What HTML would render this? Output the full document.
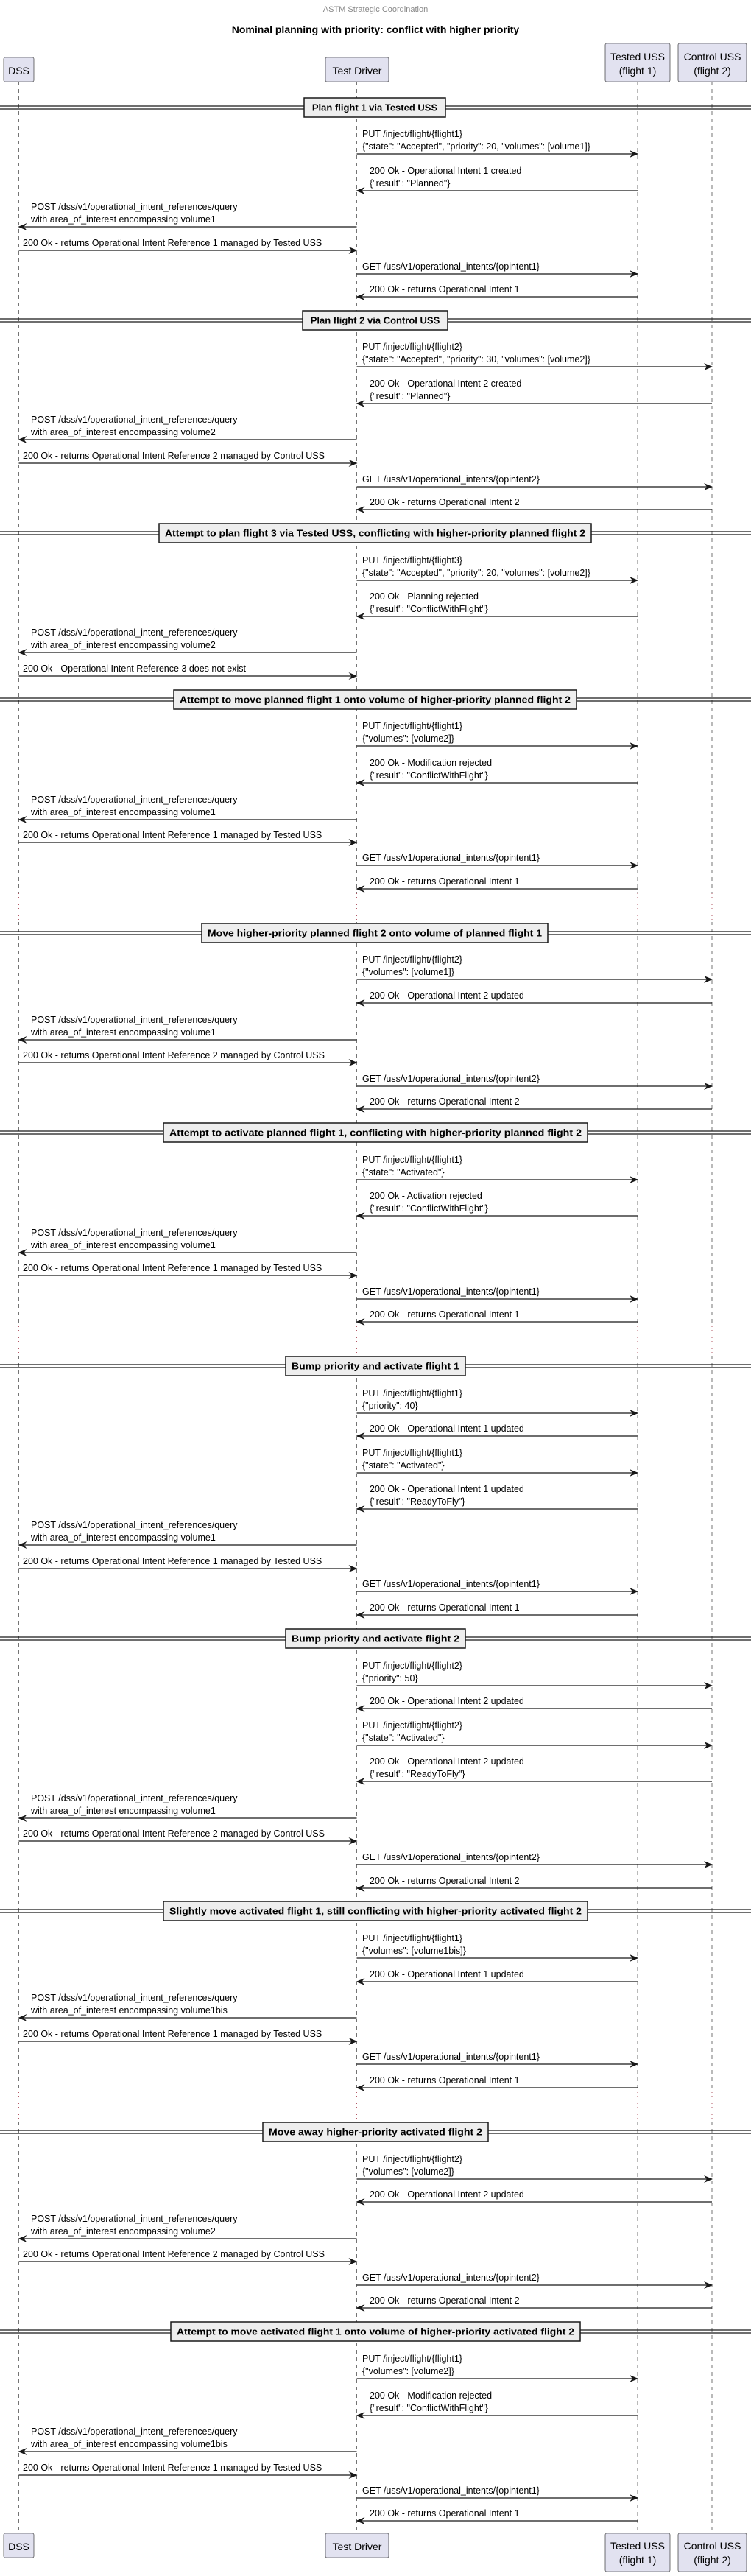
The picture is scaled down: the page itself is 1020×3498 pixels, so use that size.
<!DOCTYPE html>
<html><head><meta charset="utf-8"><style>
html,body{margin:0;padding:0;background:#fff;}
svg{display:block;}
text{font-family:"Liberation Sans",sans-serif;font-size:12.5px;fill:#000;}
.h{font-size:14px;}
.d{font-weight:bold;font-size:13px;}
.ll{stroke:#181818;stroke-width:0.6;stroke-dasharray:5,5;}
.a{stroke:#181818;stroke-width:1.2;marker-end:url(#ah);}
.dl{stroke:#181818;stroke-width:1.2;}
.db{fill:#EEEEEE;stroke:#181818;stroke-width:1.5;}
.pb{fill:#E2E2F0;stroke:#181818;stroke-width:0.6;}
.w{fill:#fff;}
.dot{stroke:#a03040;stroke-width:0.8;stroke-dasharray:1,4;}
</style></head><body>
<svg width="1020" height="3498" viewBox="0 0 1020 3498" xmlns="http://www.w3.org/2000/svg">
<defs><marker id="ah" viewBox="0 0 12 10" refX="11" refY="5" markerWidth="12" markerHeight="10" markerUnits="userSpaceOnUse" orient="auto"><path d="M0,0 L12,5 L0,10 L4,5 Z" fill="#181818"/></marker></defs>

<text x="510" y="16" text-anchor="middle" style="font-size:11px;fill:#888">ASTM Strategic Coordination</text>
<text x="510" y="45" text-anchor="middle" style="font-size:14px;font-weight:bold">Nominal planning with priority: conflict with higher priority</text>

<line class="ll" x1="25.5" y1="111" x2="25.5" y2="3440"/>
<line class="ll" x1="484.5" y1="111" x2="484.5" y2="3440"/>
<line class="ll" x1="866" y1="111" x2="866" y2="3440"/>
<line class="ll" x1="967" y1="111" x2="967" y2="3440"/>
<g>
<rect class="w" x="20" y="1212" width="12" height="40"/><rect class="w" x="479" y="1212" width="12" height="40"/><rect class="w" x="860" y="1212" width="12" height="40"/><rect class="w" x="961" y="1212" width="12" height="40"/>
<line class="dot" x1="25.5" y1="1213" x2="25.5" y2="1250"/><line class="dot" x1="484.5" y1="1213" x2="484.5" y2="1250"/><line class="dot" x1="866" y1="1213" x2="866" y2="1250"/><line class="dot" x1="967" y1="1213" x2="967" y2="1250"/>
<rect class="w" x="20" y="1800" width="12" height="40"/><rect class="w" x="479" y="1800" width="12" height="40"/><rect class="w" x="860" y="1800" width="12" height="40"/><rect class="w" x="961" y="1800" width="12" height="40"/>
<line class="dot" x1="25.5" y1="1801" x2="25.5" y2="1838"/><line class="dot" x1="484.5" y1="1801" x2="484.5" y2="1838"/><line class="dot" x1="866" y1="1801" x2="866" y2="1838"/><line class="dot" x1="967" y1="1801" x2="967" y2="1838"/>
<rect class="w" x="20" y="2840" width="12" height="40"/><rect class="w" x="479" y="2840" width="12" height="40"/><rect class="w" x="860" y="2840" width="12" height="40"/><rect class="w" x="961" y="2840" width="12" height="40"/>
<line class="dot" x1="25.5" y1="2841" x2="25.5" y2="2878"/><line class="dot" x1="484.5" y1="2841" x2="484.5" y2="2878"/><line class="dot" x1="866" y1="2841" x2="866" y2="2878"/><line class="dot" x1="967" y1="2841" x2="967" y2="2878"/>
</g>

<rect class="pb" x="5" y="78" width="41" height="33" rx="2"/><text class="h" x="25.5" y="101" text-anchor="middle">DSS</text>
<rect class="pb" x="442" y="78" width="86" height="33" rx="2"/><text class="h" x="485" y="101" text-anchor="middle">Test Driver</text>
<rect class="pb" x="822" y="59" width="88" height="52" rx="2"/><text class="h" x="866" y="82" text-anchor="middle">Tested USS</text><text class="h" x="866" y="101" text-anchor="middle">(flight 1)</text>
<rect class="pb" x="921" y="59" width="93" height="52" rx="2"/><text class="h" x="967.5" y="82" text-anchor="middle">Control USS</text><text class="h" x="967.5" y="101" text-anchor="middle">(flight 2)</text>
<rect class="pb" x="5" y="3440" width="41" height="33" rx="2"/><text class="h" x="25.5" y="3463" text-anchor="middle">DSS</text>
<rect class="pb" x="442" y="3440" width="86" height="33" rx="2"/><text class="h" x="485" y="3463" text-anchor="middle">Test Driver</text>
<rect class="pb" x="822" y="3440" width="88" height="52" rx="2"/><text class="h" x="866" y="3462" text-anchor="middle">Tested USS</text><text class="h" x="866" y="3481" text-anchor="middle">(flight 1)</text>
<rect class="pb" x="921" y="3440" width="93" height="52" rx="2"/><text class="h" x="967.5" y="3462" text-anchor="middle">Control USS</text><text class="h" x="967.5" y="3481" text-anchor="middle">(flight 2)</text>

<g>
<line class="dl" x1="0" y1="144" x2="1020" y2="144"/><line class="dl" x1="0" y1="148" x2="1020" y2="148"/>
<rect class="db" x="413" y="133" width="192" height="26"/><text class="d" x="509" y="150.5" text-anchor="middle">Plan flight 1 via Tested USS</text>
<line class="dl" x1="0" y1="433" x2="1020" y2="433"/><line class="dl" x1="0" y1="437" x2="1020" y2="437"/>
<rect class="db" x="411" y="422" width="197" height="26"/><text class="d" x="509.5" y="439.5" text-anchor="middle">Plan flight 2 via Control USS</text>
<line class="dl" x1="0" y1="722" x2="1020" y2="722"/><line class="dl" x1="0" y1="726" x2="1020" y2="726"/>
<rect class="db" x="216" y="711" width="587" height="26"/><text class="d" x="509.5" y="728.5" text-anchor="middle" textLength="571" lengthAdjust="spacingAndGlyphs">Attempt to plan flight 3 via Tested USS, conflicting with higher-priority planned flight 2</text>
<line class="dl" x1="0" y1="948" x2="1020" y2="948"/><line class="dl" x1="0" y1="952" x2="1020" y2="952"/>
<rect class="db" x="236" y="937" width="547" height="26"/><text class="d" x="509.5" y="954.5" text-anchor="middle" textLength="531" lengthAdjust="spacingAndGlyphs">Attempt to move planned flight 1 onto volume of higher-priority planned flight 2</text>
<line class="dl" x1="0" y1="1265" x2="1020" y2="1265"/><line class="dl" x1="0" y1="1269" x2="1020" y2="1269"/>
<rect class="db" x="274" y="1254" width="470" height="26"/><text class="d" x="509" y="1271.5" text-anchor="middle" textLength="454" lengthAdjust="spacingAndGlyphs">Move higher-priority planned flight 2 onto volume of planned flight 1</text>
<line class="dl" x1="0" y1="1536" x2="1020" y2="1536"/><line class="dl" x1="0" y1="1540" x2="1020" y2="1540"/>
<rect class="db" x="222" y="1525" width="576" height="26"/><text class="d" x="510" y="1542.5" text-anchor="middle" textLength="560" lengthAdjust="spacingAndGlyphs">Attempt to activate planned flight 1, conflicting with higher-priority planned flight 2</text>
<line class="dl" x1="0" y1="1853" x2="1020" y2="1853"/><line class="dl" x1="0" y1="1857" x2="1020" y2="1857"/>
<rect class="db" x="388" y="1842" width="244" height="26"/><text class="d" x="510" y="1859.5" text-anchor="middle" textLength="228" lengthAdjust="spacingAndGlyphs">Bump priority and activate flight 1</text>
<line class="dl" x1="0" y1="2223" x2="1020" y2="2223"/><line class="dl" x1="0" y1="2227" x2="1020" y2="2227"/>
<rect class="db" x="388" y="2212" width="244" height="26"/><text class="d" x="510" y="2229.5" text-anchor="middle" textLength="228" lengthAdjust="spacingAndGlyphs">Bump priority and activate flight 2</text>
<line class="dl" x1="0" y1="2593" x2="1020" y2="2593"/><line class="dl" x1="0" y1="2597" x2="1020" y2="2597"/>
<rect class="db" x="222" y="2582" width="576" height="26"/><text class="d" x="510" y="2599.5" text-anchor="middle" textLength="560" lengthAdjust="spacingAndGlyphs">Slightly move activated flight 1, still conflicting with higher-priority activated flight 2</text>
<line class="dl" x1="0" y1="2893" x2="1020" y2="2893"/><line class="dl" x1="0" y1="2897" x2="1020" y2="2897"/>
<rect class="db" x="357" y="2882" width="306" height="26"/><text class="d" x="510" y="2899.5" text-anchor="middle" textLength="290" lengthAdjust="spacingAndGlyphs">Move away higher-priority activated flight 2</text>
<line class="dl" x1="0" y1="3164" x2="1020" y2="3164"/><line class="dl" x1="0" y1="3168" x2="1020" y2="3168"/>
<rect class="db" x="232" y="3153" width="556" height="26"/><text class="d" x="510" y="3170.5" text-anchor="middle" textLength="540" lengthAdjust="spacingAndGlyphs">Attempt to move activated flight 1 onto volume of higher-priority activated flight 2</text>
</g>

<text x="492" y="186">PUT /inject/flight/{flight1}</text><text x="492" y="203">{"state": "Accepted", "priority": 20, "volumes": [volume1]}</text>
<line class="a" x1="484.5" y1="209" x2="866" y2="209"/>
<text x="502" y="236">200 Ok - Operational Intent 1 created</text><text x="502" y="253">{"result": "Planned"}</text>
<line class="a" x1="866" y1="259" x2="484.5" y2="259"/>
<text x="42" y="285">POST /dss/v1/operational_intent_references/query</text><text x="42" y="302">with area_of_interest encompassing volume1</text>
<line class="a" x1="484.5" y1="308" x2="25.5" y2="308"/>
<text x="31" y="334">200 Ok - returns Operational Intent Reference 1 managed by Tested USS</text>
<line class="a" x1="25.5" y1="340" x2="484.5" y2="340"/>
<text x="492" y="366">GET /uss/v1/operational_intents/{opintent1}</text>
<line class="a" x1="484.5" y1="372" x2="866" y2="372"/>
<text x="502" y="397">200 Ok - returns Operational Intent 1</text>
<line class="a" x1="866" y1="403" x2="484.5" y2="403"/>

<text x="492" y="475">PUT /inject/flight/{flight2}</text><text x="492" y="492">{"state": "Accepted", "priority": 30, "volumes": [volume2]}</text>
<line class="a" x1="484.5" y1="498" x2="967" y2="498"/>
<text x="502" y="525">200 Ok - Operational Intent 2 created</text><text x="502" y="542">{"result": "Planned"}</text>
<line class="a" x1="967" y1="548" x2="484.5" y2="548"/>
<text x="42" y="574">POST /dss/v1/operational_intent_references/query</text><text x="42" y="591">with area_of_interest encompassing volume2</text>
<line class="a" x1="484.5" y1="597" x2="25.5" y2="597"/>
<text x="31" y="623">200 Ok - returns Operational Intent Reference 2 managed by Control USS</text>
<line class="a" x1="25.5" y1="629" x2="484.5" y2="629"/>
<text x="492" y="655">GET /uss/v1/operational_intents/{opintent2}</text>
<line class="a" x1="484.5" y1="661" x2="967" y2="661"/>
<text x="502" y="686">200 Ok - returns Operational Intent 2</text>
<line class="a" x1="967" y1="692" x2="484.5" y2="692"/>

<text x="492" y="765">PUT /inject/flight/{flight3}</text><text x="492" y="782">{"state": "Accepted", "priority": 20, "volumes": [volume2]}</text>
<line class="a" x1="484.5" y1="788" x2="866" y2="788"/>
<text x="502" y="814">200 Ok - Planning rejected</text><text x="502" y="831">{"result": "ConflictWithFlight"}</text>
<line class="a" x1="866" y1="837" x2="484.5" y2="837"/>
<text x="42" y="863">POST /dss/v1/operational_intent_references/query</text><text x="42" y="880">with area_of_interest encompassing volume2</text>
<line class="a" x1="484.5" y1="886" x2="25.5" y2="886"/>
<text x="31" y="912">200 Ok - Operational Intent Reference 3 does not exist</text>
<line class="a" x1="25.5" y1="918" x2="484.5" y2="918"/>

<text x="492" y="990">PUT /inject/flight/{flight1}</text><text x="492" y="1007">{"volumes": [volume2]}</text>
<line class="a" x1="484.5" y1="1013" x2="866" y2="1013"/>
<text x="502" y="1040">200 Ok - Modification rejected</text><text x="502" y="1057">{"result": "ConflictWithFlight"}</text>
<line class="a" x1="866" y1="1063" x2="484.5" y2="1063"/>
<text x="42" y="1090">POST /dss/v1/operational_intent_references/query</text><text x="42" y="1107">with area_of_interest encompassing volume1</text>
<line class="a" x1="484.5" y1="1113" x2="25.5" y2="1113"/>
<text x="31" y="1138">200 Ok - returns Operational Intent Reference 1 managed by Tested USS</text>
<line class="a" x1="25.5" y1="1144" x2="484.5" y2="1144"/>
<text x="492" y="1169">GET /uss/v1/operational_intents/{opintent1}</text>
<line class="a" x1="484.5" y1="1175" x2="866" y2="1175"/>
<text x="502" y="1201">200 Ok - returns Operational Intent 1</text>
<line class="a" x1="866" y1="1207" x2="484.5" y2="1207"/>

<text x="492" y="1307">PUT /inject/flight/{flight2}</text><text x="492" y="1324">{"volumes": [volume1]}</text>
<line class="a" x1="484.5" y1="1330" x2="967" y2="1330"/>
<text x="502" y="1356">200 Ok - Operational Intent 2 updated</text>
<line class="a" x1="967" y1="1362" x2="484.5" y2="1362"/>
<text x="42" y="1389">POST /dss/v1/operational_intent_references/query</text><text x="42" y="1406">with area_of_interest encompassing volume1</text>
<line class="a" x1="484.5" y1="1412" x2="25.5" y2="1412"/>
<text x="31" y="1437">200 Ok - returns Operational Intent Reference 2 managed by Control USS</text>
<line class="a" x1="25.5" y1="1443" x2="484.5" y2="1443"/>
<text x="492" y="1469">GET /uss/v1/operational_intents/{opintent2}</text>
<line class="a" x1="484.5" y1="1475" x2="967" y2="1475"/>
<text x="502" y="1500">200 Ok - returns Operational Intent 2</text>
<line class="a" x1="967" y1="1506" x2="484.5" y2="1506"/>

<text x="492" y="1579">PUT /inject/flight/{flight1}</text><text x="492" y="1596">{"state": "Activated"}</text>
<line class="a" x1="484.5" y1="1602" x2="866" y2="1602"/>
<text x="502" y="1628">200 Ok - Activation rejected</text><text x="502" y="1645">{"result": "ConflictWithFlight"}</text>
<line class="a" x1="866" y1="1651" x2="484.5" y2="1651"/>
<text x="42" y="1678">POST /dss/v1/operational_intent_references/query</text><text x="42" y="1695">with area_of_interest encompassing volume1</text>
<line class="a" x1="484.5" y1="1701" x2="25.5" y2="1701"/>
<text x="31" y="1726">200 Ok - returns Operational Intent Reference 1 managed by Tested USS</text>
<line class="a" x1="25.5" y1="1732" x2="484.5" y2="1732"/>
<text x="492" y="1758">GET /uss/v1/operational_intents/{opintent1}</text>
<line class="a" x1="484.5" y1="1764" x2="866" y2="1764"/>
<text x="502" y="1789">200 Ok - returns Operational Intent 1</text>
<line class="a" x1="866" y1="1795" x2="484.5" y2="1795"/>

<text x="492" y="1896">PUT /inject/flight/{flight1}</text><text x="492" y="1913">{"priority": 40}</text>
<line class="a" x1="484.5" y1="1919" x2="866" y2="1919"/>
<text x="502" y="1944">200 Ok - Operational Intent 1 updated</text>
<line class="a" x1="866" y1="1950" x2="484.5" y2="1950"/>
<text x="492" y="1977">PUT /inject/flight/{flight1}</text><text x="492" y="1994">{"state": "Activated"}</text>
<line class="a" x1="484.5" y1="2000" x2="866" y2="2000"/>
<text x="502" y="2026">200 Ok - Operational Intent 1 updated</text><text x="502" y="2043">{"result": "ReadyToFly"}</text>
<line class="a" x1="866" y1="2049" x2="484.5" y2="2049"/>
<text x="42" y="2075">POST /dss/v1/operational_intent_references/query</text><text x="42" y="2092">with area_of_interest encompassing volume1</text>
<line class="a" x1="484.5" y1="2098" x2="25.5" y2="2098"/>
<text x="31" y="2124">200 Ok - returns Operational Intent Reference 1 managed by Tested USS</text>
<line class="a" x1="25.5" y1="2130" x2="484.5" y2="2130"/>
<text x="492" y="2155">GET /uss/v1/operational_intents/{opintent1}</text>
<line class="a" x1="484.5" y1="2161" x2="866" y2="2161"/>
<text x="502" y="2187">200 Ok - returns Operational Intent 1</text>
<line class="a" x1="866" y1="2193" x2="484.5" y2="2193"/>

<text x="492" y="2266">PUT /inject/flight/{flight2}</text><text x="492" y="2283">{"priority": 50}</text>
<line class="a" x1="484.5" y1="2289" x2="967" y2="2289"/>
<text x="502" y="2314">200 Ok - Operational Intent 2 updated</text>
<line class="a" x1="967" y1="2320" x2="484.5" y2="2320"/>
<text x="492" y="2347">PUT /inject/flight/{flight2}</text><text x="492" y="2364">{"state": "Activated"}</text>
<line class="a" x1="484.5" y1="2370" x2="967" y2="2370"/>
<text x="502" y="2396">200 Ok - Operational Intent 2 updated</text><text x="502" y="2413">{"result": "ReadyToFly"}</text>
<line class="a" x1="967" y1="2419" x2="484.5" y2="2419"/>
<text x="42" y="2446">POST /dss/v1/operational_intent_references/query</text><text x="42" y="2463">with area_of_interest encompassing volume1</text>
<line class="a" x1="484.5" y1="2469" x2="25.5" y2="2469"/>
<text x="31" y="2494">200 Ok - returns Operational Intent Reference 2 managed by Control USS</text>
<line class="a" x1="25.5" y1="2500" x2="484.5" y2="2500"/>
<text x="492" y="2526">GET /uss/v1/operational_intents/{opintent2}</text>
<line class="a" x1="484.5" y1="2532" x2="967" y2="2532"/>
<text x="502" y="2558">200 Ok - returns Operational Intent 2</text>
<line class="a" x1="967" y1="2564" x2="484.5" y2="2564"/>

<text x="492" y="2636">PUT /inject/flight/{flight1}</text><text x="492" y="2653">{"volumes": [volume1bis]}</text>
<line class="a" x1="484.5" y1="2659" x2="866" y2="2659"/>
<text x="502" y="2685">200 Ok - Operational Intent 1 updated</text>
<line class="a" x1="866" y1="2691" x2="484.5" y2="2691"/>
<text x="42" y="2717">POST /dss/v1/operational_intent_references/query</text><text x="42" y="2734">with area_of_interest encompassing volume1bis</text>
<line class="a" x1="484.5" y1="2740" x2="25.5" y2="2740"/>
<text x="31" y="2766">200 Ok - returns Operational Intent Reference 1 managed by Tested USS</text>
<line class="a" x1="25.5" y1="2772" x2="484.5" y2="2772"/>
<text x="492" y="2797">GET /uss/v1/operational_intents/{opintent1}</text>
<line class="a" x1="484.5" y1="2803" x2="866" y2="2803"/>
<text x="502" y="2829">200 Ok - returns Operational Intent 1</text>
<line class="a" x1="866" y1="2835" x2="484.5" y2="2835"/>

<text x="492" y="2936">PUT /inject/flight/{flight2}</text><text x="492" y="2953">{"volumes": [volume2]}</text>
<line class="a" x1="484.5" y1="2959" x2="967" y2="2959"/>
<text x="502" y="2984">200 Ok - Operational Intent 2 updated</text>
<line class="a" x1="967" y1="2990" x2="484.5" y2="2990"/>
<text x="42" y="3017">POST /dss/v1/operational_intent_references/query</text><text x="42" y="3034">with area_of_interest encompassing volume2</text>
<line class="a" x1="484.5" y1="3040" x2="25.5" y2="3040"/>
<text x="31" y="3065">200 Ok - returns Operational Intent Reference 2 managed by Control USS</text>
<line class="a" x1="25.5" y1="3071" x2="484.5" y2="3071"/>
<text x="492" y="3097">GET /uss/v1/operational_intents/{opintent2}</text>
<line class="a" x1="484.5" y1="3103" x2="967" y2="3103"/>
<text x="502" y="3128">200 Ok - returns Operational Intent 2</text>
<line class="a" x1="967" y1="3134" x2="484.5" y2="3134"/>

<text x="492" y="3207">PUT /inject/flight/{flight1}</text><text x="492" y="3224">{"volumes": [volume2]}</text>
<line class="a" x1="484.5" y1="3230" x2="866" y2="3230"/>
<text x="502" y="3257">200 Ok - Modification rejected</text><text x="502" y="3274">{"result": "ConflictWithFlight"}</text>
<line class="a" x1="866" y1="3280" x2="484.5" y2="3280"/>
<text x="42" y="3306">POST /dss/v1/operational_intent_references/query</text><text x="42" y="3323">with area_of_interest encompassing volume1bis</text>
<line class="a" x1="484.5" y1="3329" x2="25.5" y2="3329"/>
<text x="31" y="3355">200 Ok - returns Operational Intent Reference 1 managed by Tested USS</text>
<line class="a" x1="25.5" y1="3361" x2="484.5" y2="3361"/>
<text x="492" y="3386">GET /uss/v1/operational_intents/{opintent1}</text>
<line class="a" x1="484.5" y1="3392" x2="866" y2="3392"/>
<text x="502" y="3417">200 Ok - returns Operational Intent 1</text>
<line class="a" x1="866" y1="3423" x2="484.5" y2="3423"/>
</svg>
</body></html>
